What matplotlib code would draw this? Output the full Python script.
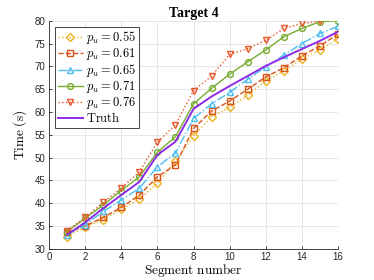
import numpy as np
import matplotlib
matplotlib.use("Agg")
from matplotlib import pyplot as plt

plt.rcParams["mathtext.fontset"] = "cm"
plt.rcParams["font.family"] = "Liberation Sans"

# data
segments = np.arange(1, 17)
p055 = [32.7, 34.8, 36.4, 38.7, 40.9, 44.4, 49.3, 54.7, 59.0, 61.0, 63.7, 66.8, 69.0, 71.6, 73.6, 76.1]
p061 = [33.6, 35.0, 36.9, 39.1, 41.8, 45.8, 48.4, 56.4, 60.2, 62.4, 65.0, 67.7, 69.7, 72.3, 74.5, 77.1]
p065 = [33.1, 35.3, 38.2, 40.7, 43.3, 48.0, 51.0, 58.6, 61.8, 64.3, 67.2, 69.9, 72.5, 75.0, 77.2, 78.8]
p071 = [33.8, 36.7, 39.6, 42.8, 45.8, 51.2, 54.6, 61.8, 65.2, 68.3, 71.0, 73.6, 76.5, 78.3, 79.8, 80.0]
p076 = [34.0, 36.9, 40.2, 43.3, 46.9, 53.4, 57.2, 64.7, 67.9, 72.6, 73.9, 75.7, 78.3, 79.4, 79.9]
truth = [33.1, 35.8, 38.9, 41.8, 44.7, 50.6, 53.5, 60.7, 63.4, 65.7, 67.9, 70.1, 72.0, 73.8, 75.6, 77.6]

fig = plt.figure(figsize=(3.74, 2.8), dpi=100)
ax = fig.add_axes([0.131, 0.111, 0.773, 0.815])

mk = dict(markersize=4.2, markerfacecolor="none", markeredgewidth=1.0, linewidth=1.0)
ax.plot(segments, p055, ls=":", marker="D", color="#EDB120", label=r"$p_u = 0.55$", **mk)
ax.plot(segments, p061, ls="--", marker="s", color="#D95319", label=r"$p_u = 0.61$", **mk)
ax.plot(segments, p065, ls="-.", marker="^", color="#4DBEEE", label=r"$p_u = 0.65$", **mk)
ax.plot(segments, p071, ls="-", marker="o", color="#77AC30", label=r"$p_u = 0.71$", **mk)
ax.plot(segments[:len(p076)], p076, ls=":", marker="v", color="#E8592A", label=r"$p_u = 0.76$", **mk)
ax.plot(segments, truth, ls="-", color="#8E2BE6", linewidth=1.4, label=r"$\mathrm{Truth}$")

ax.set_xlim(0, 16)
ax.set_ylim(30, 80)
ax.set_xticks(np.arange(0, 17, 2))
ax.set_yticks(np.arange(30, 81, 5))
ax.tick_params(direction="in", labelsize=7, colors="#262626", length=2.5, width=0.6, pad=2.5)
ax.grid(True, color="#E6E6E6", linewidth=0.7)
ax.set_axisbelow(True)
for s in ["top", "right"]:
	ax.spines[s].set_visible(False)
for s in ["left", "bottom"]:
	ax.spines[s].set_color("#262626")
	ax.spines[s].set_linewidth(0.6)

ax.set_xlabel(r"$\mathrm{Segment\ number}$", fontsize=9.5, labelpad=0)
ax.set_ylabel(r"$\mathrm{Time\ (s)}$", fontsize=9.5, labelpad=4)
ax.set_title("Target 4", fontsize=10, fontweight="bold", family="Liberation Serif", pad=3)

leg = ax.legend(loc="upper left", fontsize=9, frameon=True, fancybox=False,
	handlelength=2.0, handletextpad=0.3, labelspacing=0.0, borderpad=0.2,
	borderaxespad=0.5)
leg.get_frame().set_edgecolor("#262626")
leg.get_frame().set_linewidth(0.6)
leg.get_frame().set_alpha(1)

fig.savefig("out.png", dpi=100)
